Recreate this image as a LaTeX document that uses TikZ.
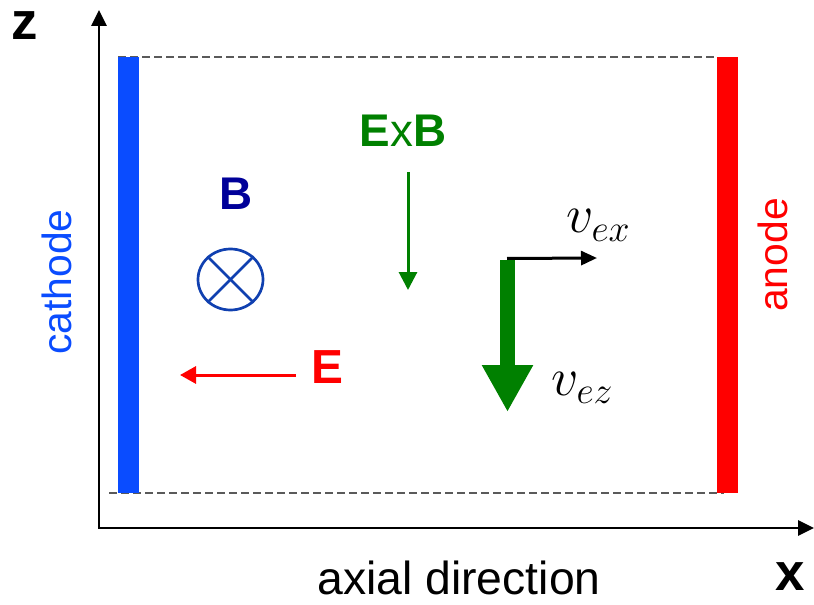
\RequirePackage{fix-cm}
\documentclass[tikz,border=0pt]{standalone}
\usepackage{fontspec}
\newfontfamily\arial{Liberation Sans}
\usetikzlibrary{arrows.meta,shapes.geometric}
\definecolor{cathblue}{RGB}{10,76,255}
\definecolor{anred}{RGB}{255,0,0}
\definecolor{exbgreen}{RGB}{0,128,0}
\definecolor{bnavy}{RGB}{0,0,153}
\definecolor{circblue}{RGB}{16,64,176}
\definecolor{dashgray}{RGB}{90,90,90}
\begin{document}
\begin{tikzpicture}[x=1bp,y=-1bp,
  lbl/.style={inner sep=0pt, anchor=base},
  sanslbl/.style={lbl, font=\arial\fontsize{41}{45}\selectfont},
  boldlbl/.style={lbl, font=\arial\bfseries\fontsize{46}{50}\selectfont},
  axislbl/.style={lbl, font=\arial\bfseries\fontsize{53}{57}\selectfont, text height=28bp, text depth=0bp},
  mathlbl/.style={inner sep=0pt, anchor=base west, font=\fontsize{54}{58}\selectfont},
  axisline/.style={line width=2.8bp, black},
  bar/.style={draw=none, inner sep=0pt, minimum width=21bp, minimum height=436bp},
  edge/.style={dashgray, line width=1.3bp, dash pattern=on 8bp off 4bp},
  thinarrow/.style={line width=3bp, -{Triangle[length=16bp, width=17bp]}}
]
\useasboundingbox (0,0) rectangle (814,605);

% axes
\coordinate (origin) at (99,528);
\coordinate (ztip) at (99,10);
\coordinate (xtip) at (814,528);
\draw[axisline, {Triangle[length=16bp, width=15bp]}-{Triangle[length=16bp, width=15bp]}]
  (ztip) -- (origin) -- (xtip);
\node[axislbl] (zlabel) at (25,40) {z};
\node[axislbl] (xlabel) at (790,590) {x};
\node[sanslbl, font=\arial\fontsize{46.5}{50}\selectfont] (axial) at (459,594) {axial direction};

% dashed channel edges
\coordinate (topl) at (118,57);
\coordinate (topr) at (716,57);
\coordinate (botl) at (109,493);
\coordinate (botr) at (724,493);
\draw[edge] (topl) -- (topr);
\draw[edge] (botl) -- (botr);

% electrodes
\node[bar, fill=cathblue] (cathodebar) at (128.5,275) {};
\node[bar, fill=anred] (anodebar) at (727,275) {};
\node[sanslbl, text=cathblue, rotate=90] (cathode) at (71,282) {cathode};
\node[sanslbl, text=anred, rotate=90] (anode) at (787,255) {anode};

% B field
\node[boldlbl, text=bnavy] (Blabel) at (236,210) {B};
\node[ellipse, draw=circblue, line width=2.7bp, minimum width=65bp, minimum height=61bp, inner sep=0pt] (bcirc) at (230.5,279.5) {};
\draw[circblue, line width=2.7bp] (bcirc.45) -- (bcirc.225);
\draw[circblue, line width=2.7bp] (bcirc.135) -- (bcirc.315);

% E field
\coordinate (estart) at (296,375);
\coordinate (eend) at (180,375);
\draw[thinarrow, anred] (estart) -- (eend);
\node[boldlbl, text=anred, font=\arial\bfseries\fontsize{48}{52}\selectfont] (Elabel) at (327,383) {E};

% ExB drift
\node[boldlbl, text=exbgreen] (exblabel) at (403,147) {E\textmd{x}B};
\coordinate (exbstart) at (408,172);
\coordinate (exbend) at (408,290);
\draw[exbgreen, line width=3bp, -{Triangle[length=18bp, width=18bp]}] (exbstart) -- (exbend);

% electron velocities
\coordinate (vorigin) at (507.5,260);
\coordinate (veztip) at (507.5,412);
\coordinate (vexstart) at (507,258.5);
\coordinate (vextip) at (597,258);
\draw[exbgreen, line width=15bp, -{Triangle[length=47bp, width=48bp]}] (vorigin) -- (veztip);
\draw[black, line width=3bp, -{Triangle[length=16bp, width=14bp]}] (vexstart) -- (vextip);
\node[mathlbl] (vexlabel) at (566,233) {$v_{ex}$};
\node[mathlbl] (vezlabel) at (551,395) {$v_{ez}$};
\end{tikzpicture}
\end{document}
